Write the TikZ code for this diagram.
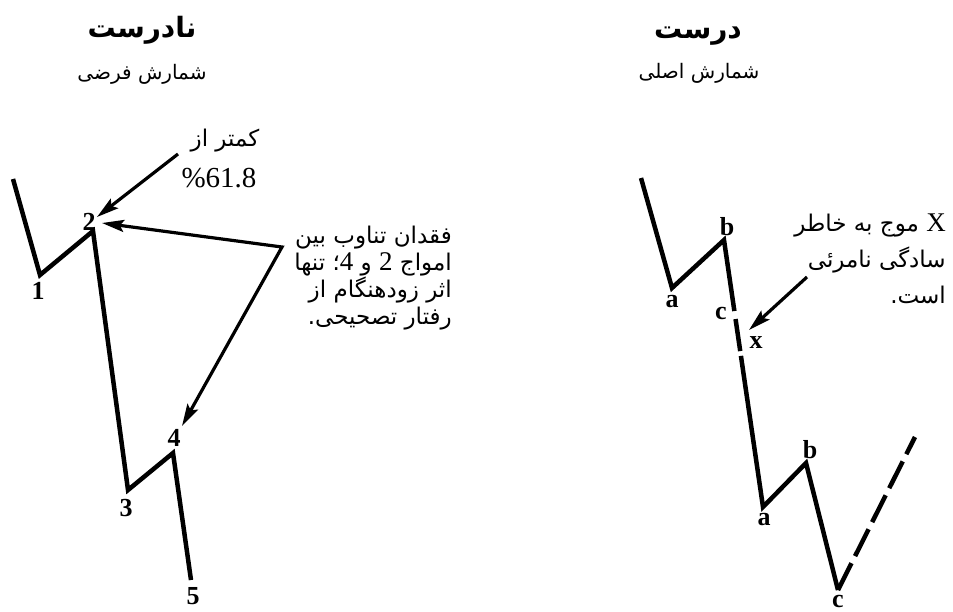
\documentclass[tikz,border=0pt]{standalone}
\usepackage{fontspec}
\setmainfont{Liberation Serif}
\newfontfamily\fa[Script=Arabic]{DejaVu Sans}
\TeXXeTstate=1
\usetikzlibrary{arrows.meta,calc}
\begin{document}
\begin{tikzpicture}[x=1pt,y=-1pt,
  wave/.style={line width=4.5pt, line join=miter},
  tipA/.tip={Stealth[length=22pt,width=12pt,inset=4pt]},
  arr/.style={line width=3.2pt, -tipA},
  lbl/.style={font=\bfseries\fontsize{26}{26}\selectfont, inner sep=0pt},
  ttl/.style={font=\fa\bfseries\fontsize{28}{28}\selectfont, inner sep=0pt, anchor=base},
  sub/.style={font=\fa\fontsize{20}{20}\selectfont, inner sep=0pt, anchor=base},
  ann/.style={font=\fa\fontsize{23}{27}\selectfont, inner sep=0pt, align=right},
  annr/.style={font=\fa\fontsize{23}{36}\selectfont, inner sep=0pt, align=right},
  num/.style={font=\fontsize{29}{29}\selectfont, inner sep=0pt}]
\useasboundingbox (0,0) rectangle (953,611);
% titles
\node[ttl] (tl) at (142,37) {\beginR نادرست\endR};
\node[sub] (sl) at (142,79) {\beginR شمارش فرضی\endR};
\node[ttl] (tr) at (698,38) {\beginR درست\endR};
\node[sub] (sr) at (699,78) {\beginR شمارش اصلی\endR};
% left wave
\coordinate (L0) at (13,179);
\coordinate (L1) at (40,275);
\coordinate (L2) at (93,231);
\coordinate (L3) at (128,490);
\coordinate (L4) at (173,453);
\coordinate (L5) at (191,580);
\draw[wave] (L0) -- (L1) -- (L2) -- (L3) -- (L4) -- (L5);
\node[lbl] (n1) at (38,291) {1};
\node[lbl] (n2) at (89,222) {2};
\node[lbl] (n3) at (126,508) {3};
\node[lbl] (n4) at (174,438) {4};
\node[lbl] (n5) at (193,596) {5};
% annotation 61.8
\node[ann] (k1) at (225,141) {\beginR کمتر از\endR};
\node[num] (k2) at (219,178) {\%61.8};
\coordinate (A1s) at (178,154);
\coordinate (A1e) at (97,217);
\draw[arr] (A1s) -- (A1e);
% alternation annotation
\coordinate (C) at (282,247);
\coordinate (T2) at (102,223);
\coordinate (T4) at (182,426);
\draw[line width=3.2pt, tipA-tipA] (T2) -- (C) -- (T4);
\node[ann, anchor=north east] (mid) at (452,226) {%
\beginR فقدان تناوب بین\endR\\
\beginR امواج {\rmfamily\fontsize{27}{27}\selectfont 2} و {\rmfamily\fontsize{27}{27}\selectfont 4}؛ تنها\endR\\
\beginR اثر زودهنگام از\endR\\
\beginR رفتار تصحیحی.\endR};
% right wave
\coordinate (R0) at (641,178);
\coordinate (Ra1) at (672,288);
\coordinate (Rb1) at (724,240);
\coordinate (Ra2) at (763,507);
\coordinate (Rb2) at (806,463);
\coordinate (Rc2) at (838,590);
\coordinate (Rd) at (915,437);
\draw[wave] (R0) -- (Ra1) -- (Rb1) -- ($(Rb1)!0.266!(Ra2)$);
\draw[wave] ($(Rb1)!0.296!(Ra2)$) -- ($(Rb1)!0.416!(Ra2)$);
\draw[wave] ($(Rb1)!0.434!(Ra2)$) -- (Ra2) -- (Rb2) -- (Rc2);
\draw[wave, dash pattern=on 30pt off 8pt] (Rc2) -- (Rd);
\node[lbl] (ra1) at (672,302) {a};
\node[lbl] (rb1) at (727,227) {b};
\node[lbl] (rc1) at (721,313) {c};
\node[lbl] (rx) at (756,343) {x};
\node[lbl] (ra2) at (764,520) {a};
\node[lbl] (rb2) at (810,450) {b};
\node[lbl] (rc2) at (838,601) {c};
% x annotation
\coordinate (A2s) at (807,277);
\coordinate (A2e) at (749,330);
\draw[arr] (A2s) -- (A2e);
\node[annr, anchor=north east] (rt) at (946,214) {%
\beginR {\rmfamily\fontsize{27}{27}\selectfont X} موج به خاطر\endR\\
\beginR سادگی نامرئی\endR\\
\beginR است.\endR};
\end{tikzpicture}
\end{document}
